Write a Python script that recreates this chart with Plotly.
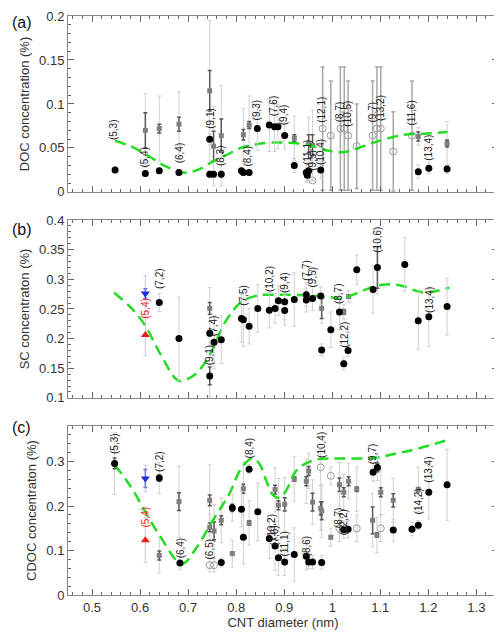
import plotly.graph_objects as go

# ---------------- Panel (a) DOC ----------------
a_blk_x = [0.548, 0.611, 0.640, 0.681, 0.745, 0.745, 0.753, 0.769, 0.811, 0.815, 0.827, 0.844, 0.869, 0.880, 0.887, 0.901, 0.921, 0.946, 0.948, 0.951, 0.976, 1.179, 1.201, 1.239]
a_blk_y = [0.025, 0.021, 0.024, 0.022, 0.060, 0.020, 0.020, 0.020, 0.024, 0.022, 0.022, 0.072, 0.076, 0.074, 0.074, 0.064, 0.030, 0.022, 0.019, 0.024, 0.025, 0.023, 0.027, 0.026]
a_blk_ed = [0.004, 0.003, 0.003, 0.003, 0.006, 0.004, 0.004, 0.004, 0.003, 0.003, 0.003, 0.025, 0.030, 0.028, 0.025, 0.015, 0.008, 0.010, 0.008, 0.010, 0.010, 0.008, 0.006, 0.005]

a_sq_x = [0.611, 0.640, 0.681, 0.745, 0.753, 0.769, 0.815, 0.827, 0.921, 0.951, 0.959, 1.179, 1.239]
a_sq_y = [0.070, 0.072, 0.077, 0.115, 0.052, 0.064, 0.065, 0.076, 0.061, 0.055, 0.053, 0.063, 0.055]
a_sq_es = [0.020, 0.005, 0.008, 0.023, 0.017, 0.019, 0.006, 0.004, 0.004, 0.010, 0.012, 0.005, 0.004]
a_sq_ed = [0.042, 0.037, 0.037, 0.080, 0.045, 0.057, 0.030, 0.033, 0.025, 0.030, 0.040, 0.010, 0.025]

a_open_x = [0.959, 0.980, 0.997, 1.017, 1.025, 1.033, 1.051, 1.084, 1.093, 1.101, 1.127, 1.166]
a_open_y = [0.013, 0.072, 0.064, 0.072, 0.072, 0.064, 0.052, 0.064, 0.072, 0.072, 0.046, 0.064]
a_open_e = [0.000, 0.070, 0.062, 0.070, 0.070, 0.062, 0.048, 0.062, 0.070, 0.070, 0.045, 0.062]

a_fit_x = [0.548, 0.58, 0.62, 0.65, 0.69, 0.72, 0.75, 0.78, 0.81, 0.84, 0.87, 0.90, 0.93, 0.96, 0.99, 1.02, 1.05, 1.08, 1.11, 1.15, 1.19, 1.24]
a_fit_y = [0.058, 0.052, 0.040, 0.030, 0.022, 0.025, 0.034, 0.042, 0.050, 0.054, 0.056, 0.056, 0.055, 0.052, 0.047, 0.045, 0.049, 0.055, 0.060, 0.065, 0.066, 0.068]

a_lab = ["(5,3)", "(5,4)", "(6,4)", "(9,1)", "(8,3)", "(8,4)", "(9,3)", "(7,6)", "(9,4)", "(11,1)", "(9,5)", "(10,4)", "(12,1)", "(8,7)", "(10,5)", "(9,7)", "(13,2)", "(11,6)", "(13,4)"]
a_lab_x = [0.545, 0.610, 0.681, 0.745, 0.769, 0.824, 0.842, 0.878, 0.899, 0.949, 0.959, 0.976, 0.976, 1.015, 1.033, 1.084, 1.101, 1.166, 1.201]
a_lab_y = [0.071, 0.040, 0.045, 0.084, 0.041, 0.041, 0.093, 0.098, 0.088, 0.045, 0.036, 0.045, 0.093, 0.091, 0.089, 0.091, 0.095, 0.089, 0.050]

# ---------------- Panel (b) SC ----------------
b_blk_x = [0.640, 0.681, 0.745, 0.745, 0.754, 0.769, 0.811, 0.815, 0.827, 0.845, 0.869, 0.881, 0.888, 0.901, 0.901, 0.921, 0.946, 0.946, 0.959, 0.976, 0.978, 0.997, 1.015, 1.024, 1.033, 1.051, 1.085, 1.094, 1.151, 1.179, 1.201, 1.239]
b_blk_y = [0.261, 0.200, 0.137, 0.209, 0.194, 0.198, 0.234, 0.232, 0.221, 0.251, 0.248, 0.251, 0.264, 0.262, 0.2475, 0.266, 0.274, 0.265, 0.2675, 0.272, 0.181, 0.215, 0.245, 0.1575, 0.180, 0.316, 0.283, 0.320, 0.325, 0.230, 0.237, 0.254]
b_blk_ed = [0.015, 0.070, 0.035, 0.020, 0.045, 0.040, 0.040, 0.045, 0.030, 0.040, 0.030, 0.025, 0.025, 0.030, 0.025, 0.045, 0.020, 0.020, 0.020, 0.015, 0.010, 0.030, 0.030, 0.010, 0.010, 0.025, 0.040, 0.045, 0.045, 0.048, 0.050, 0.048]
b_blk_es = [0.003, 0.0, 0.015, 0.004, 0.0, 0.0, 0.0, 0.0, 0.0, 0.0, 0.0, 0.0, 0.0, 0.0, 0.0, 0.0, 0.0, 0.0, 0.0, 0.0, 0.0, 0.0, 0.0, 0.004, 0.0, 0.0, 0.0, 0.035, 0.0, 0.0, 0.0, 0.0]

b_sq_x = [0.745, 0.978, 1.024, 1.034]
b_sq_y = [0.251, 0.251, 0.245, 0.271]
b_sq_es = [0.010, 0.017, 0.004, 0.003]
b_sq_ed = [0.035, 0.025, 0.012, 0.010]

b_tri_x = [0.611]
b_down_y = [0.276]
b_down_e = [0.008]
b_up_y = [0.206]
b_up_e = [0.035]

b_fit_x = [0.546, 0.58, 0.61, 0.645, 0.681, 0.715, 0.745, 0.778, 0.813, 0.848, 0.890, 0.945, 0.994, 1.021, 1.049, 1.084, 1.105, 1.14, 1.181, 1.20, 1.244]
b_fit_y = [0.2775, 0.253, 0.223, 0.170, 0.129, 0.140, 0.173, 0.229, 0.263, 0.273, 0.274, 0.273, 0.270, 0.2675, 0.276, 0.287, 0.291, 0.290, 0.279, 0.278, 0.286]

b_lab = ["(7,2)", "(9,1)", "(7,4)", "(7,5)", "(10,2)", "(9,4)", "(7,7)", "(9,5)", "(8,7)", "(12,2)", "(10,6)", "(13,4)"]
b_lab_x = [0.640, 0.745, 0.753, 0.815, 0.869, 0.901, 0.946, 0.959, 1.013, 1.024, 1.094, 1.201]
b_lab_y = [0.301, 0.173, 0.222, 0.273, 0.301, 0.295, 0.315, 0.304, 0.276, 0.206, 0.3675, 0.265]
b_red_lab_y = [0.251]

# ---------------- Panel (c) CDOC ----------------
c_blk_x = [0.547, 0.640, 0.683, 0.769, 0.792, 0.811, 0.815, 0.827, 0.845, 0.869, 0.881, 0.888, 0.901, 0.921, 0.946, 0.951, 0.959, 0.978, 1.024, 1.033, 1.085, 1.094, 1.127, 1.166, 1.179, 1.201, 1.239]
c_blk_y = [0.296, 0.263, 0.072, 0.073, 0.196, 0.193, 0.130, 0.283, 0.187, 0.127, 0.110, 0.084, 0.074, 0.091, 0.087, 0.074, 0.074, 0.073, 0.147, 0.148, 0.276, 0.287, 0.146, 0.148, 0.157, 0.231, 0.248]
c_blk_ed = [0.070, 0.035, 0.015, 0.010, 0.030, 0.040, 0.060, 0.010, 0.065, 0.045, 0.055, 0.040, 0.030, 0.060, 0.030, 0.015, 0.015, 0.015, 0.020, 0.020, 0.020, 0.030, 0.025, 0.015, 0.010, 0.060, 0.080]
c_blk_es = [0.012, 0.007, 0.0, 0.0, 0.008, 0.0, 0.0, 0.0, 0.0, 0.0, 0.0, 0.0, 0.0, 0.0, 0.0, 0.0, 0.0, 0.0, 0.0, 0.0, 0.0, 0.010, 0.0, 0.0, 0.0, 0.0, 0.0]

c_sq_x = [0.640, 0.681, 0.745, 0.745, 0.754, 0.769, 0.792, 0.815, 0.827, 0.881, 0.888, 0.901, 0.921, 0.946, 0.951, 0.959, 0.976, 0.978, 0.997, 1.015, 1.024, 1.034, 1.051, 1.084, 1.093, 1.101, 1.127, 1.179]
c_sq_y = [0.089, 0.210, 0.213, 0.152, 0.144, 0.168, 0.093, 0.239, 0.162, 0.237, 0.202, 0.204, 0.261, 0.256, 0.279, 0.209, 0.195, 0.189, 0.130, 0.248, 0.231, 0.256, 0.238, 0.168, 0.135, 0.231, 0.213, 0.237]
c_sq_es = [0.010, 0.020, 0.012, 0.010, 0.020, 0.010, 0.003, 0.010, 0.005, 0.010, 0.010, 0.015, 0.005, 0.010, 0.010, 0.020, 0.015, 0.020, 0.003, 0.015, 0.010, 0.010, 0.005, 0.030, 0.005, 0.010, 0.015, 0.005]
c_sq_ed = [0.040, 0.080, 0.080, 0.030, 0.060, 0.050, 0.030, 0.060, 0.050, 0.050, 0.060, 0.060, 0.050, 0.050, 0.040, 0.050, 0.050, 0.060, 0.020, 0.050, 0.040, 0.040, 0.050, 0.060, 0.040, 0.050, 0.050, 0.050]

c_open_x = [0.745, 0.754, 0.976, 0.997, 1.015, 1.051, 1.101]
c_open_y = [0.067, 0.067, 0.287, 0.268, 0.150, 0.150, 0.150]
c_open_e = [0.015, 0.015, 0.040, 0.020, 0.030, 0.030, 0.030]

c_tri_x = [0.611]
c_down_y = [0.262]
c_down_e = [0.020]
c_up_y = [0.123]
c_up_e = [0.050]

c_fit_x = [0.547, 0.58, 0.61, 0.64, 0.687, 0.716, 0.751, 0.785, 0.813, 0.834, 0.848, 0.863, 0.876, 0.890, 0.903, 0.924, 0.945, 0.973, 1.0, 1.035, 1.085, 1.133, 1.181, 1.244]
c_fit_y = [0.293, 0.245, 0.189, 0.135, 0.070, 0.104, 0.167, 0.226, 0.289, 0.307, 0.296, 0.256, 0.226, 0.2185, 0.233, 0.278, 0.296, 0.306, 0.307, 0.307, 0.308, 0.318, 0.330, 0.350]

c_lab = ["(5,3)", "(7,2)", "(6,4)", "(6,5)", "(8,4)", "(10,2)", "(7,6)", "(11,1)", "(8,6)", "(10,4)", "(8,7)", "(12,2)", "(9,7)", "(14,2)", "(13,4)"]
c_lab_x = [0.547, 0.640, 0.683, 0.745, 0.827, 0.874, 0.881, 0.901, 0.947, 0.976, 1.013, 1.024, 1.084, 1.179, 1.201]
c_lab_y = [0.341, 0.300, 0.107, 0.104, 0.330, 0.152, 0.133, 0.115, 0.111, 0.337, 0.174, 0.163, 0.318, 0.211, 0.2815]
c_red_lab_y = [0.175]

# ---------------- styles ----------------
BLACK = "#000000"
SQ = "#7f7f7f"
OPEN = "#9a9a9a"
DOT = "#d0d0d0"
SOLID = "#5a5a5a"
GREEN = "#22dd22"

fig = go.Figure()


def add_points(x, y, xa, ya, ed=None, es=None, symbol="circle", color=BLACK, size=7,
               line_color=None, es_color=SOLID, ed_color=DOT):
    if ed is not None:
        fig.add_trace(go.Scatter(x=x, y=y, xaxis=xa, yaxis=ya, mode="markers",
                                 marker=dict(size=1, color="rgba(0,0,0,0)"),
                                 error_y=dict(type="data", array=ed, visible=True,
                                              color=ed_color, thickness=1, width=2),
                                 hoverinfo="skip", showlegend=False))
    if es is not None:
        fig.add_trace(go.Scatter(x=x, y=y, xaxis=xa, yaxis=ya, mode="markers",
                                 marker=dict(size=1, color="rgba(0,0,0,0)"),
                                 error_y=dict(type="data", array=es, visible=True,
                                              color=es_color, thickness=1.5, width=2),
                                 hoverinfo="skip", showlegend=False))
    mk = dict(size=size, color=color, symbol=symbol)
    if line_color:
        mk["line"] = dict(color=line_color, width=1)
    fig.add_trace(go.Scatter(x=x, y=y, xaxis=xa, yaxis=ya, mode="markers",
                             marker=mk, showlegend=False))


def add_fit(x, y, xa, ya):
    fig.add_trace(go.Scatter(x=x, y=y, xaxis=xa, yaxis=ya, mode="lines",
                             line=dict(color=GREEN, width=2.5, dash="11px,6px",
                                       shape="spline", smoothing=1.0),
                             showlegend=False, hoverinfo="skip"))


# Panel a (x, y)
add_points(a_open_x, a_open_y, "x", "y", es=a_open_e, symbol="circle-open", color=OPEN,
           size=7, es_color="#a8a8a8")
add_points(a_sq_x, a_sq_y, "x", "y", ed=a_sq_ed, es=a_sq_es, symbol="square", color=SQ, size=5)
add_fit(a_fit_x, a_fit_y, "x", "y")
add_points(a_blk_x, a_blk_y, "x", "y", ed=a_blk_ed, color=BLACK, size=7)

# Panel b (x2, y2)
add_points(b_sq_x, b_sq_y, "x2", "y2", ed=b_sq_ed, es=b_sq_es, symbol="square", color=SQ, size=5)
add_fit(b_fit_x, b_fit_y, "x2", "y2")
add_points(b_blk_x, b_blk_y, "x2", "y2", ed=b_blk_ed, es=b_blk_es, color=BLACK, size=7)
add_points(b_tri_x, b_down_y, "x2", "y2", ed=[0.03], es=b_down_e, symbol="triangle-down",
           color="#1f2bd6", size=8, es_color="#6f76e0", ed_color="#c8c8ee")
add_points(b_tri_x, b_up_y, "x2", "y2", ed=b_up_e, symbol="triangle-up",
           color="#ee1c1c", size=8, ed_color="#c8c8ee")

# Panel c (x3, y3)
add_points(c_open_x, c_open_y, "x3", "y3", ed=c_open_e, symbol="circle-open", color=OPEN, size=7)
add_points(c_sq_x, c_sq_y, "x3", "y3", ed=c_sq_ed, es=c_sq_es, symbol="square", color=SQ, size=5)
add_fit(c_fit_x, c_fit_y, "x3", "y3")
add_points(c_blk_x, c_blk_y, "x3", "y3", ed=c_blk_ed, es=c_blk_es, color=BLACK, size=7)
add_points(c_tri_x, c_down_y, "x3", "y3", ed=[0.03], es=c_down_e, symbol="triangle-down",
           color="#1f2bd6", size=8, es_color="#6f76e0", ed_color="#c8c8ee")
add_points(c_tri_x, c_up_y, "x3", "y3", ed=c_up_e, symbol="triangle-up",
           color="#ee1c1c", size=8, ed_color="#c8c8ee")

# ---------------- labels ----------------
ann = []
FAM = "Liberation Sans, Arial, sans-serif"


def add_labels(labs, xs, ys, xa, ya, color="#222222"):
    for t, xv, yv in zip(labs, xs, ys):
        ann.append(dict(text=t, x=xv, y=yv, xref=xa, yref=ya, showarrow=False,
                        textangle=-90, xanchor="center", yanchor="middle",
                        font=dict(family=FAM, size=10, color=color)))


add_labels(a_lab, a_lab_x, a_lab_y, "x", "y")
add_labels(b_lab, b_lab_x, b_lab_y, "x2", "y2")
add_labels(["(5,4)"], b_tri_x, b_red_lab_y, "x2", "y2", color="#ee1c1c")
add_labels(c_lab, c_lab_x, c_lab_y, "x3", "y3")
add_labels(["(5,4)"], c_tri_x, c_red_lab_y, "x3", "y3", color="#ee1c1c")

for t, yv in [("(a)", 0.988), ("(b)", 0.631), ("(c)", 0.290)]:
    ann.append(dict(text=t, x=-0.136, y=yv, xref="paper", yref="paper", showarrow=False,
                    xanchor="left", yanchor="middle",
                    font=dict(family=FAM, size=16, color="#111")))

# ---------------- axes ----------------
FONT = dict(family=FAM, size=13, color="#333333")
XR = [0.45, 1.345]


def xax(anchor, show):
    return dict(range=XR, showline=True, linecolor="#888888", linewidth=1, mirror="allticks",
                ticks="inside", ticklen=6, tickcolor="#666666", tickwidth=1,
                dtick=0.1, tick0=0.5, showgrid=False, zeroline=False,
                minor=dict(ticks="inside", ticklen=3, dtick=0.02, tickcolor="#666666", showgrid=False),
                showticklabels=show, tickfont=FONT, anchor=anchor)


def yax(domain, rng, dtick, minor, title, anchor):
    return dict(domain=domain, range=rng, showline=True, linecolor="#888888", linewidth=1,
                mirror="allticks", ticks="inside", ticklen=6, tickcolor="#666666", tickwidth=1,
                dtick=dtick, tick0=0, showgrid=False, zeroline=False,
                minor=dict(ticks="inside", ticklen=3, dtick=minor, tickcolor="#666666", showgrid=False),
                tickfont=FONT, anchor=anchor,
                title=dict(text=title, font=FONT, standoff=6))


# page body has an 8px default margin, so the figure is sized to fit the 502x632 window
fig.update_layout(
    width=494, height=624,
    margin=dict(l=60, r=4, t=1, b=37),
    paper_bgcolor="white", plot_bgcolor="white",
    xaxis=xax("y", False),
    xaxis2=xax("y2", False),
    xaxis3=dict(xax("y3", True), title=dict(text="CNT diameter (nm)", font=FONT, standoff=4)),
    yaxis=yax([0.6962, 1.0], [0, 0.2], 0.05, 0.01, "DOC concentration (%)", "x"),
    yaxis2=yax([0.3404, 0.6476], [0.1, 0.4], 0.05, 0.01, "SC concentraton (%)", "x2"),
    yaxis3=yax([0.0, 0.2918], [0, 0.38], 0.1, 0.02, "CDOC concentraton (%)", "x3"),
    annotations=ann,
    showlegend=False,
)

fig.write_html("out.html")
